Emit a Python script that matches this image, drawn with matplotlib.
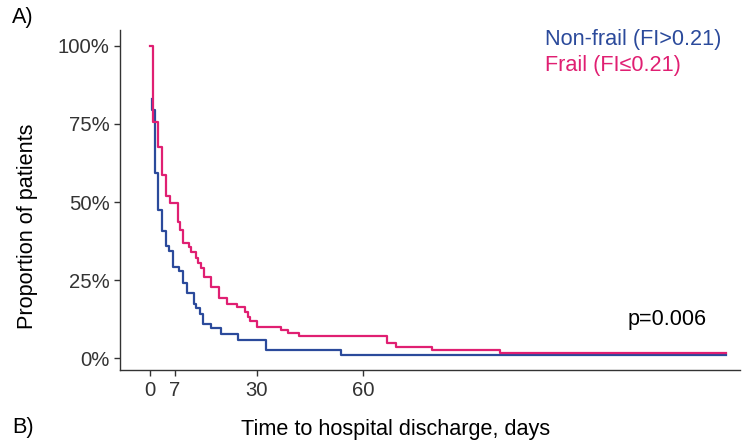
import matplotlib.pyplot as plt

plt.rcParams['font.family'] = ['Liberation Sans', 'DejaVu Sans']

# Kaplan-Meier step data (days, % still in hospital)
frail_t = [0, 0.75, 2.3, 3.5, 4.5, 5.6, 7.8, 8.6, 9.4, 11, 11.7, 12.9, 13.6, 14.5, 15.3,
           17.3, 19.5, 21.6, 24.6, 26.7, 27.5, 28.3, 30, 37, 38.9, 42, 66.8, 69.2, 79.5,
           98.5, 162]
frail_s = [100, 75.7, 67.5, 58.7, 52, 49.8, 43.7, 41, 37, 35.7, 34.1, 32, 30.4, 28.8, 26.1,
           22.9, 19.2, 17.4, 16.3, 14.9, 13.3, 11.9, 10.2, 9.1, 8.0, 7.1, 4.8, 3.7, 2.8,
           1.8, 1.8]

nonfrail_t = [0.7, 0.7, 1.4, 2.3, 3.5, 4.5, 5.4, 6.6, 8.2, 9.4, 10.5, 12.5, 13.1, 14.1, 15,
              17.3, 19.9, 24.8, 32.6, 53.9, 162]
nonfrail_s = [83, 79.5, 59.4, 47.5, 40.7, 35.9, 34.4, 29.1, 28, 24, 20.8, 17.4, 16, 14.2, 11,
              9.6, 7.8, 5.9, 2.7, 1.2, 1.2]

xticks = [0, 7, 30, 60]
yticks = [0, 25, 50, 75, 100]
ytick_labels = ['0%', '25%', '50%', '75%', '100%']

blue = '#2B4A9B'
pink = '#E01F72'
fs = 15.6
fs_tick = 14.6

fig = plt.figure(figsize=(7.49, 4.47), dpi=100)
ax = fig.add_axes([0.160, 0.172, 0.828, 0.761])

ax.step(nonfrail_t, nonfrail_s, where='post', color=blue, lw=1.6, zorder=2)
ax.step(frail_t, frail_s, where='post', color=pink, lw=1.6, zorder=3)

ax.set_xlim(-8.44, 166)
ax.set_ylim(-3.74, 105)
ax.set_xticks(xticks)
ax.set_yticks(yticks)
ax.set_yticklabels(ytick_labels)
ax.tick_params(labelsize=fs_tick, colors='#333333', length=4, width=1)
for s in ['top', 'right']:
    ax.spines[s].set_visible(False)
for s in ['left', 'bottom']:
    ax.spines[s].set_color('#333333')
    ax.spines[s].set_linewidth(1)

fig.text(28 / 749, 1 - 226 / 447, 'Proportion of patients', fontsize=fs, rotation=90,
         ha='center', va='center')
fig.text(396 / 749, 1 - 430 / 447, 'Time to hospital discharge, days', fontsize=fs,
         ha='center', va='center')

ax.text(145.4, 12.3, 'p=0.006', fontsize=fs, ha='center', va='center')

fig.text(545 / 749, 1 - 40 / 447, 'Non-frail (FI>0.21)', fontsize=fs, color=blue,
         ha='left', va='center')
fig.text(545 / 749, 1 - 65 / 447, 'Frail (FI\u22640.21)', fontsize=fs, color=pink,
         ha='left', va='center')

fig.text(12 / 749, 1 - 18 / 447, 'A)', fontsize=fs, ha='left', va='center')
fig.text(12 / 749, 1 - 428 / 447, 'B)', fontsize=fs, ha='left', va='center')

fig.savefig('out.png', dpi=100)
